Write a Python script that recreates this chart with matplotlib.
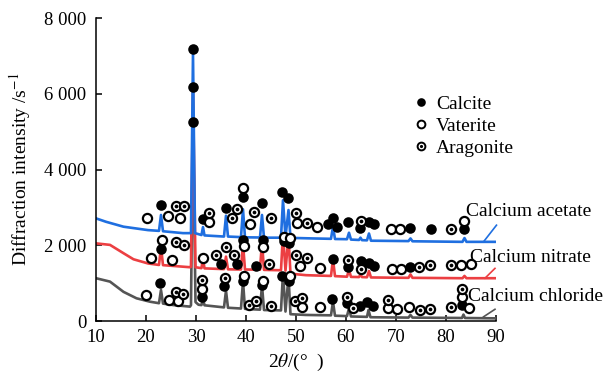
import matplotlib
matplotlib.use('Agg')
import matplotlib.pyplot as plt
from matplotlib.lines import Line2D

plt.rcParams['font.family'] = ['Liberation Serif', 'DejaVu Serif']
plt.rcParams['mathtext.fontset'] = 'stix'
plt.rcParams['font.size'] = 14

# XRD curves (2theta, intensity)
acetate_x = [10, 12, 15.5, 20.4, 22.6, 23.0, 23.4, 27.4, 29.0, 29.4, 29.8, 31.1, 31.4, 31.7,
             35.6, 36.0, 36.4, 39.0, 39.4, 39.8, 42.8, 43.2, 43.6, 47.0, 47.4, 47.9, 48.5,
             48.9, 53.4, 57.0, 57.4, 57.8, 60.2, 60.6, 61.0, 62.6, 62.9, 63.2, 64.2, 64.6,
             65.0, 72.5, 72.9, 73.3, 83.3, 83.7, 84.1, 90]
acetate_y = [2710, 2620, 2490, 2400, 2380, 2800, 2370, 2320, 2320, 7050, 2320, 2270, 2480, 2260,
             2230, 2780, 2230, 2215, 2950, 2210, 2205, 2800, 2200, 2200, 3190, 2220, 2930,
             2195, 2180, 2170, 2490, 2165, 2160, 2330, 2150, 2140, 2200, 2135, 2130, 2310,
             2120, 2110, 2180, 2105, 2090, 2190, 2090, 2090]

nitrate_x = [10, 12.8, 15.5, 17.5, 20.4, 22.6, 23.0, 23.4, 28.8, 29.0, 29.4, 29.9, 31.1, 31.4,
             31.7, 35.6, 36.0, 36.4, 39.0, 39.4, 39.8, 42.8, 43.2, 43.6, 47.0, 47.4, 47.9,
             48.5, 48.9, 52.0, 57.0, 57.4, 57.8, 60.2, 60.6, 61.0, 62.6, 62.9, 63.2, 64.2,
             64.6, 65.0, 72.5, 72.9, 73.3, 83.3, 83.7, 84.1, 90]
nitrate_y = [2050, 2010, 1790, 1630, 1520, 1480, 1960, 1475, 1420, 1430, 6150, 1420, 1395, 1660,
             1390, 1370, 1700, 1365, 1360, 2050, 1360, 1355, 2090, 1350, 1340, 2320, 1330,
             2230, 1250, 1210, 1190, 1630, 1185, 1170, 1350, 1165, 1160, 1230, 1160, 1155,
             1320, 1150, 1140, 1230, 1140, 1130, 1190, 1130, 1130]

chloride_x = [10, 12.8, 15.5, 18.1, 20.8, 22.6, 23.0, 23.4, 25.5, 28.8, 29.0, 29.4, 29.9, 30.5,
              31.1, 31.4, 31.7, 35.6, 36.0, 36.4, 39.0, 39.4, 39.8, 42.8, 43.2, 43.6, 47.0,
              47.4, 47.9, 48.5, 48.9, 52.0, 57.0, 57.4, 57.8, 60.2, 60.6, 61.0, 64.2, 64.5,
              64.9, 72.5, 72.9, 73.3, 83.2, 83.5, 83.8, 90]
chloride_y = [1130, 1040, 770, 600, 510, 470, 820, 460, 420, 380, 420, 5250, 500, 430,
              420, 600, 415, 360, 800, 350, 330, 1050, 320, 300, 950, 290, 280,
              1260, 250, 1170, 180, 160, 150, 510, 140, 130, 335, 120, 110, 290,
              100, 90, 160, 90, 80, 170, 80, 70]

# phase markers
calcite_x = [23.1, 29.5, 29.5, 29.5, 31.5, 36.0, 39.5, 43.2, 47.3, 48.5, 56.5, 57.4, 58.2, 60.4,
             62.8, 64.7, 65.6, 72.8, 77.0, 83.7,
             23.0, 35.0, 38.3, 39.5, 42.1, 43.4, 47.6, 48.6, 57.4, 60.5, 63.0, 64.7, 65.7, 72.8,
             22.9, 31.2, 35.6, 39.5, 43.3, 47.3, 48.6, 57.2, 60.3, 62.8, 64.3, 65.5, 83.3]
calcite_y = [3070, 7180, 6170, 5260, 2690, 2980, 3270, 3120, 3410, 3240, 2570, 2730, 2490, 2610,
             2450, 2620, 2550, 2450, 2430, 2430,
             1910, 1510, 1510, 2140, 1450, 2140, 2120, 2050, 1650, 1430, 1590, 1520, 1450, 1430,
             1010, 640, 925, 1060, 960, 1190, 1060, 580, 470, 400, 490, 400, 420]

vaterite_x = [20.3, 24.4, 26.9, 32.7, 39.5, 40.9, 50.3, 54.2, 69.0, 70.8, 83.7,
              21.1, 23.2, 25.3, 31.5, 39.7, 43.4, 47.6, 48.8, 50.9, 54.9, 69.3, 71.0, 83.1, 85.0,
              20.0, 24.7, 26.4, 31.2, 39.6, 43.5, 48.8, 51.3, 54.9, 68.5, 70.3, 72.7, 83.3, 84.7]
vaterite_y = [2710, 2780, 2730, 2610, 3500, 2550, 2600, 2470, 2430, 2430, 2650,
              1660, 2130, 1600, 1660, 1990, 1960, 2230, 2200, 1450, 1410, 1370, 1370, 1480, 1500,
              690, 560, 540, 855, 1190, 1060, 1200, 380, 360, 350, 310, 380, 630, 335]

aragonite_x = [26.0, 27.7, 32.7, 37.2, 38.2, 41.6, 45.1, 50.1, 52.2, 63.0, 81.1,
               26.1, 27.7, 34.0, 36.1, 37.6, 44.7, 50.1, 52.2, 60.5, 63.1, 74.7, 76.8, 81.1,
               26.0, 27.4, 31.2, 35.9, 40.7, 42.0, 45.0, 49.9, 51.3, 60.3, 61.5, 68.5, 74.8,
               76.9, 81.1, 83.3]
aragonite_y = [3030, 3030, 2840, 2710, 2960, 2880, 2710, 2850, 2600, 2650, 2430,
               2085, 2020, 1740, 1960, 1730, 1500, 1730, 1655, 1610, 1370, 1430, 1480, 1480,
               770, 705, 1070, 1130, 420, 540, 400, 530, 600, 640, 350, 550, 290,
               320, 360, 840]

samples = ['Calcium acetate', 'Calcium nitrate', 'Calcium chloride']
label_x = [84.1, 84.9, 84.5]
label_y = [2900, 1670, 640]
leader_x = [[87.5, 90.1], [87.8, 89.8], [87.5, 89.8]]
leader_y = [[2090, 2530], [1130, 1390], [110, 310]]
colors = ['#1f6fe0', '#ec3f42', '#555555']

fig = plt.figure(figsize=(6.13, 3.79), dpi=100)
ax = fig.add_axes([0.1566, 0.153, 0.6525, 0.7995])

curves = [(acetate_x, acetate_y), (nitrate_x, nitrate_y), (chloride_x, chloride_y)]
for i in [2, 1, 0]:
    cx, cy = curves[i]
    ax.plot(cx, cy, color=colors[i], lw=1.9, zorder=2 + (2 - i) * 0.1)
    ax.plot(leader_x[i], leader_y[i], color=colors[i], lw=1.2, clip_on=False)
    ax.text(label_x[i], label_y[i], samples[i], va='center', ha='left', clip_on=False)

ax.plot(calcite_x, calcite_y, 'o', ms=7.6, color='black', mew=0, zorder=5)
ax.plot(vaterite_x, vaterite_y, 'o', ms=6.6, mfc='white', mec='black', mew=1.6, zorder=5)
ax.plot(aragonite_x, aragonite_y, 'o', ms=6.6, mfc='white', mec='black', mew=1.6, zorder=5)
ax.plot(aragonite_x, aragonite_y, 'o', ms=2.7, color='black', mew=0, zorder=6)

h_cal = Line2D([], [], ls='none', marker='o', ms=6.2, color='black', mew=0)
h_vat = Line2D([], [], ls='none', marker='o', ms=5.6, mfc='white', mec='black', mew=1.4)
h_ara_dot = Line2D([], [], ls='none', marker='o', ms=2.3, color='black', mew=0)
ax.legend([h_cal, h_vat, (h_vat, h_ara_dot)], ['Calcite', 'Vaterite', 'Aragonite'],
          loc='upper left', bbox_to_anchor=(0.7875, 0.745), frameon=False,
          handlelength=1.0, handletextpad=0.3, labelspacing=0.22,
          borderpad=0, borderaxespad=0)

ax.set_xlim(10, 90)
ax.set_ylim(0, 8000)
ax.set_xticks(range(10, 91, 10))
ax.set_yticks([0, 2000, 4000, 6000, 8000])
ax.set_yticklabels(['0', '2 000', '4 000', '6 000', '8 000'])
ax.spines['top'].set_visible(False)
ax.spines['right'].set_visible(False)
ax.spines['left'].set_linewidth(1.1)
ax.spines['bottom'].set_linewidth(1.1)
ax.tick_params(direction='in', length=4, width=1.1, labelsize=13.5)
ax.tick_params(axis='y', pad=7)
ax.tick_params(axis='x', pad=6)

ax.set_xlabel(r'2$\theta$/(°  )', fontsize=14, labelpad=4)
ax.set_ylabel(r'Diffraction intensity /s$^{-1}$', fontsize=14, labelpad=8)

fig.savefig('out.png', dpi=100)
